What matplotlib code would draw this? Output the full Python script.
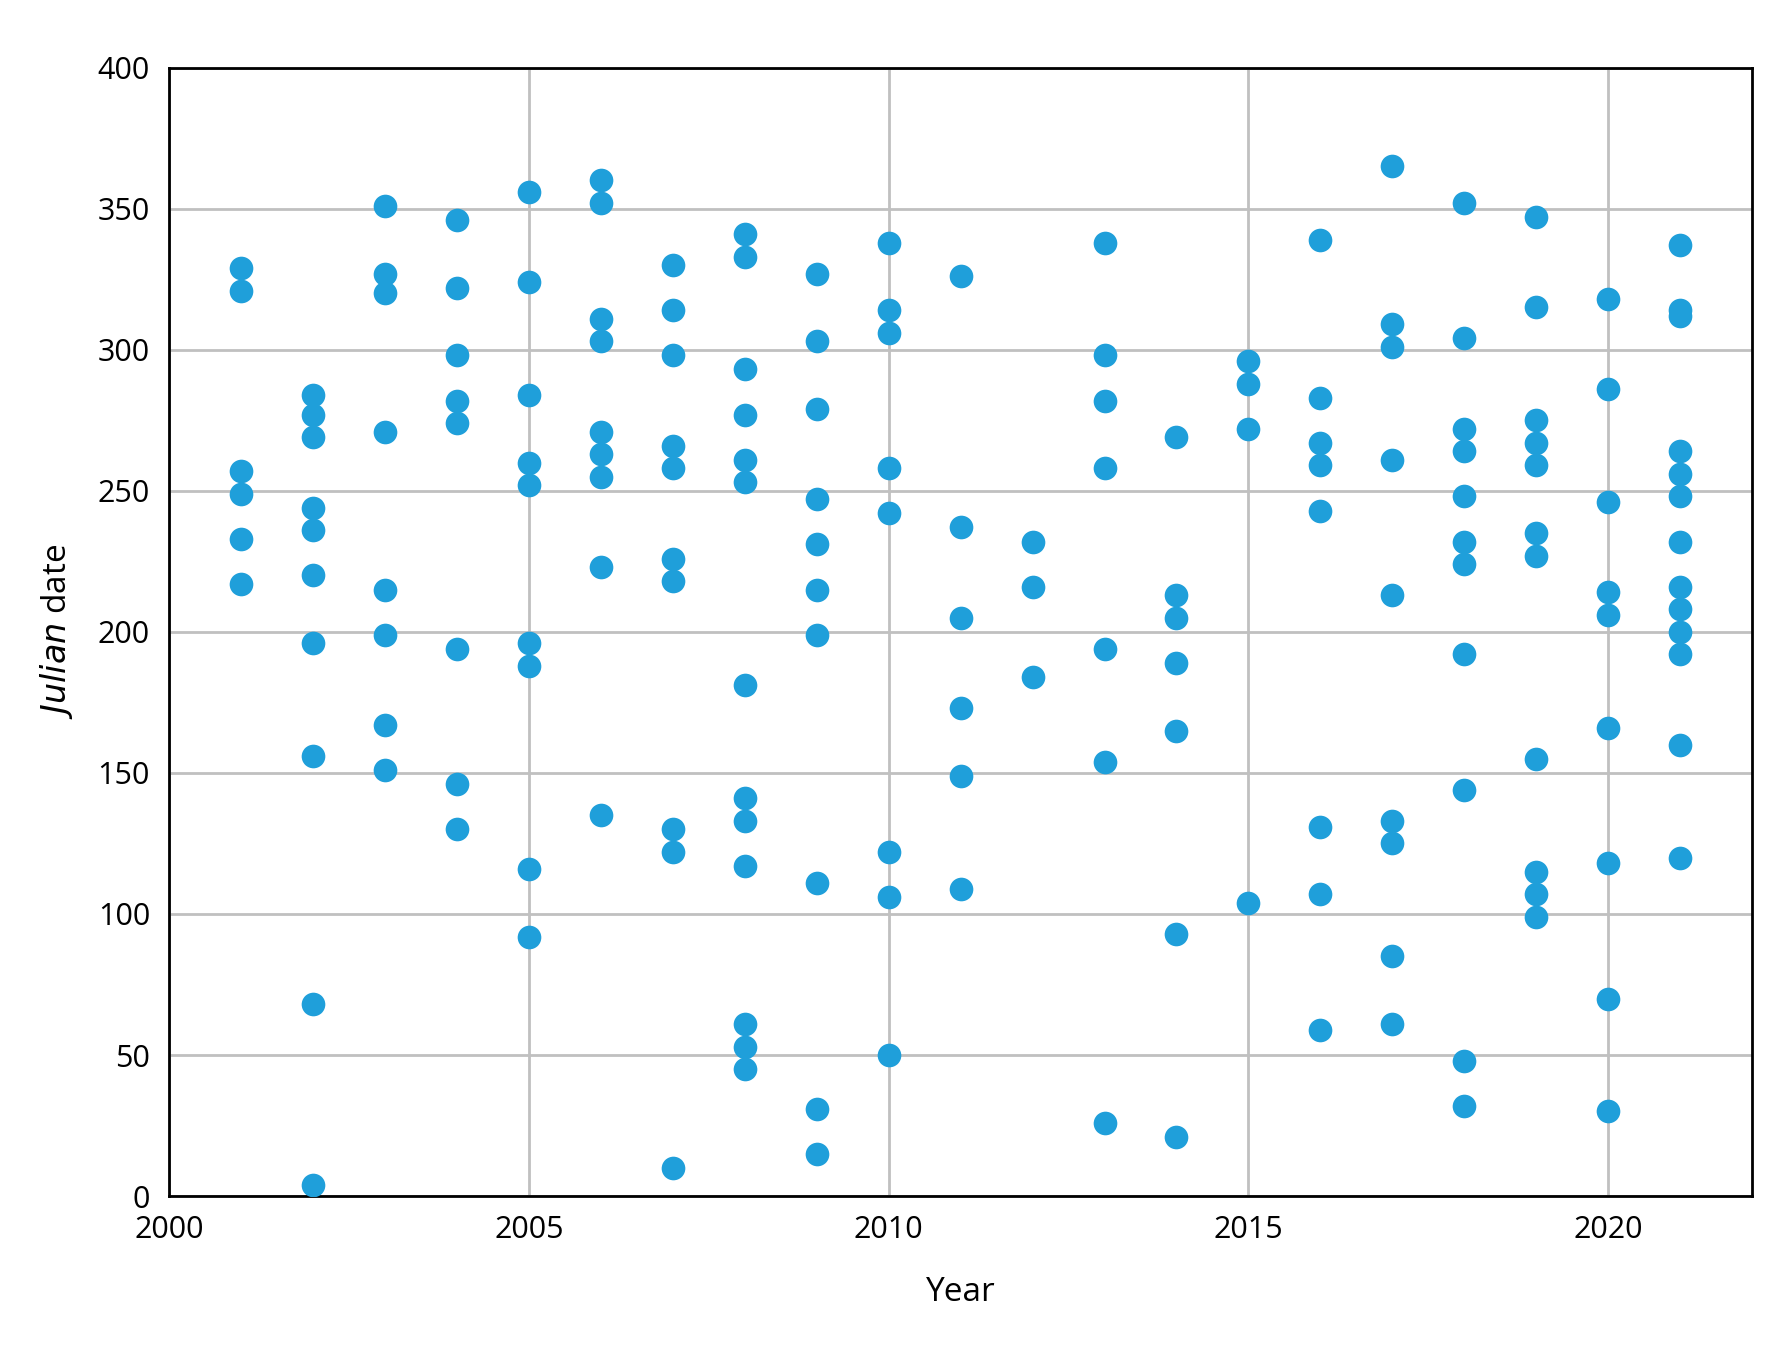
import matplotlib
matplotlib.use("Agg")
import matplotlib.pyplot as plt

# Julian dates of events per year
dates = {
    2001: [329, 321, 257, 249, 233, 217],
    2002: [284, 277, 269, 244, 236, 220, 196, 156, 68, 4],
    2003: [351, 327, 320, 271, 215, 199, 167, 151],
    2004: [346, 322, 298, 282, 274, 194, 146, 130],
    2005: [356, 324, 284, 260, 252, 196, 188, 116, 92],
    2006: [360, 352, 311, 303, 271, 263, 255, 223, 135],
    2007: [330, 314, 298, 266, 258, 226, 218, 130, 122, 10],
    2008: [341, 333, 293, 277, 261, 253, 181, 141, 133, 117, 61, 53, 45],
    2009: [327, 303, 279, 247, 231, 215, 199, 111, 31, 15],
    2010: [338, 314, 306, 258, 242, 122, 106, 50],
    2011: [326, 237, 205, 173, 149, 109],
    2012: [232, 216, 184],
    2013: [338, 298, 282, 258, 194, 154, 26],
    2014: [269, 213, 205, 189, 165, 93, 21],
    2015: [296, 288, 272, 104],
    2016: [339, 283, 267, 259, 243, 131, 107, 59],
    2017: [365, 309, 301, 261, 213, 133, 125, 85, 61],
    2018: [352, 304, 272, 264, 248, 232, 224, 192, 144, 48, 32],
    2019: [347, 315, 275, 267, 259, 235, 227, 155, 115, 107, 99],
    2020: [318, 286, 246, 214, 206, 166, 118, 70, 30],
    2021: [337, 314, 312, 264, 256, 248, 232, 216, 208, 200, 192, 160, 120],
}

years = [y for y, d in dates.items() for _ in d]
values = [v for d in dates.values() for v in d]

plt.rcParams['font.family'] = ['Open Sans', 'DejaVu Sans']
fig = plt.figure(figsize=(17.84, 13.53), dpi=100)
ax = fig.add_axes([0.095, 0.116, 0.887, 0.834])
ax.scatter(years, values, s=290, color='#1f9fda', zorder=3, linewidths=0)
ax.set_xlim(2000, 2022)
ax.set_ylim(0, 400)
ax.set_xticks([2000, 2005, 2010, 2015, 2020])
ax.set_yticks(range(0, 401, 50))
ax.grid(True, color='#c0c0c0', linewidth=2)
ax.set_axisbelow(True)
for s in ax.spines.values():
    s.set_linewidth(2)
    s.set_color('black')
ax.tick_params(length=0, labelsize=22, pad=14)
ax.set_xlabel('Year', fontsize=24, labelpad=22)
ax.set_ylabel('$\\mathit{Julian}$ date', fontsize=24, labelpad=16)
fig.savefig('out.png', dpi=100)
